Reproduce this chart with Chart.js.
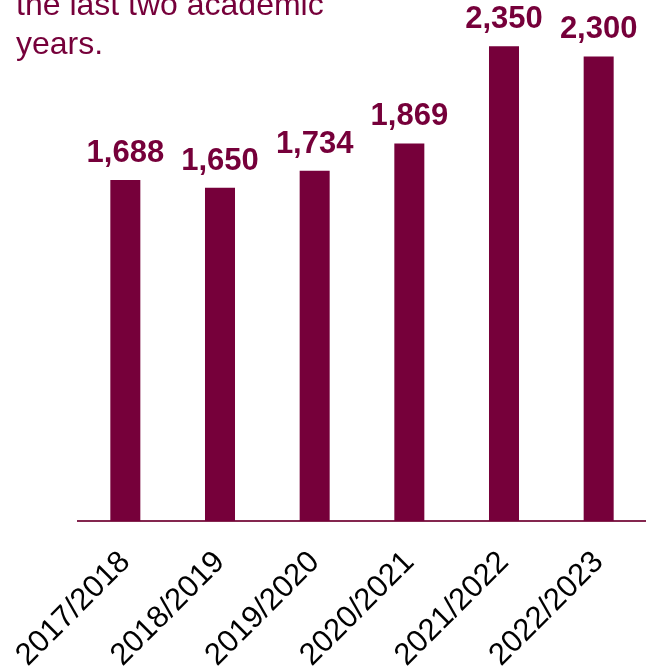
<!DOCTYPE html>
<html>
<head>
<meta charset="utf-8">
<script src="https://cdn.jsdelivr.net/npm/chart.js@4/dist/chart.umd.min.js"></script>
<style>
  body { margin: 0; background: #fff; }
  #wrap { position: relative; width: 646px; height: 669px; overflow: hidden; }
  #note {
    position: absolute; left: 16px; top: -15px;
    font-family: 'Liberation Sans', Arial, sans-serif;
    font-size: 32px; line-height: 39px; color: #76003a;
  }
</style>
</head>
<body>
<div id="wrap">
  <canvas id="enrolChart" width="646" height="669"></canvas>
  <div id="note">the last two academic<br>years.</div>
</div>
<script>
// dados do gráfico
const years = ['2017/2018', '2018/2019', '2019/2020', '2020/2021', '2021/2022', '2022/2023'];
const students = [1688, 1650, 1734, 1869, 2350, 2300];

const maroon = '#76003a';
const fontFamily = "'Liberation Sans', Arial, sans-serif";

// rótulos de valor em cima das barras
const valueLabels = {
    id: 'valueLabels',
    afterDatasetsDraw(chart) {
        const ctx = chart.ctx;
        const meta = chart.getDatasetMeta(0);
        ctx.save();
        ctx.fillStyle = maroon;
        ctx.font = 'bold 31px ' + fontFamily;
        ctx.textAlign = 'center';
        ctx.textBaseline = 'alphabetic';
        meta.data.forEach(function(bar, i) {
            ctx.fillText(students[i].toLocaleString('en-US'), bar.x, bar.y - 18);
        });
        ctx.restore();
    }
};

new Chart(document.getElementById('enrolChart'), {
    type: 'bar',
    data: {
        labels: years,
        datasets: [{
            data: students,
            backgroundColor: maroon,
            categoryPercentage: 1,
            barPercentage: 0.317
        }]
    },
    options: {
        responsive: false,
        animation: false,
        layout: { padding: { left: 78, top: 16, right: 0, bottom: 0 } },
        plugins: {
            legend: { display: false },
            tooltip: { enabled: false }
        },
        scales: {
            x: {
                grid: { display: false },
                border: { display: true, color: '#84264f', width: 2 },
                ticks: {
                    color: '#000',
                    font: { family: fontFamily, size: 31 },
                    minRotation: 45,
                    maxRotation: 45,
                    autoSkip: false,
                    padding: 15
                },
                afterFit(scale) {
                    scale.height = 148;
                    scale.paddingLeft = 0;
                    scale.paddingRight = 0;
                }
            },
            y: {
                display: false,
                min: 0,
                max: 2500
            }
        }
    },
    plugins: [valueLabels]
});
</script>
</body>
</html>
